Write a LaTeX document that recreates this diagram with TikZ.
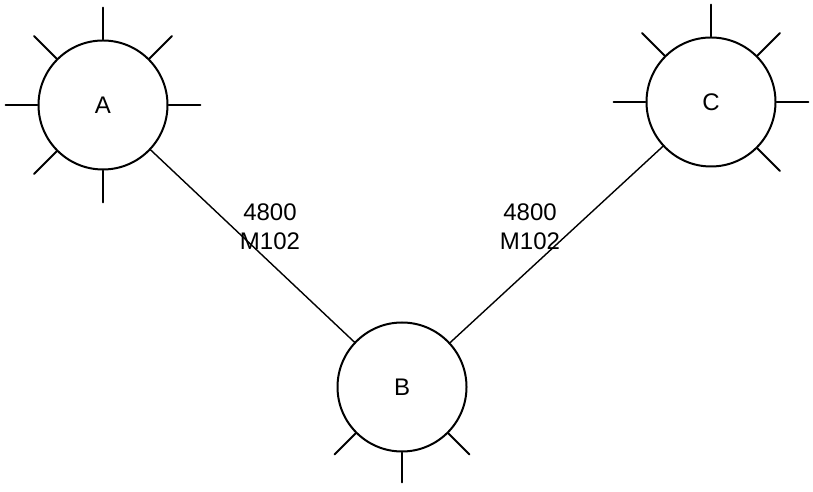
\documentclass[tikz,border=0pt]{standalone}
\usepackage{fontspec}
\setmainfont{Liberation Sans}
\begin{document}
\begin{tikzpicture}[x=1pt,y=1pt,line cap=round] % 1 unit = 1 px of the plan
  \tikzset{site/.style={draw,circle,line width=2pt,minimum size=129pt,inner sep=0pt,font=\fontsize{24}{26}\selectfont},
           spoke/.style={line width=1.8pt},
           trunk/.style={line width=1.4pt},
           rate/.style={align=center,font=\fontsize{24}{29}\selectfont}}
  \useasboundingbox (0,0) rectangle (813,492);
  \node[site] (A) at (103,387) {A};
  \node[site] (B) at (402,105) {B};
  \node[site] (C) at (711,390) {C};
  \draw[trunk] (A)--(B);
  \draw[trunk] (B)--(C);
  \foreach \a in {0,45,...,270} \draw[spoke] (A.\a)--++(\a:32); % no spoke toward B
  \foreach \a in {-45,0,45,...,180} \draw[spoke] (C.\a)--++(\a:32);
  \foreach \a in {225,270,315} \draw[spoke] (B.\a)--++(\a:30);
  \node[rate] (lblAB) at (270,265) {4800\\M102};
  \node[rate] (lblBC) at (530,265) {4800\\M102};
\end{tikzpicture}
\end{document}
